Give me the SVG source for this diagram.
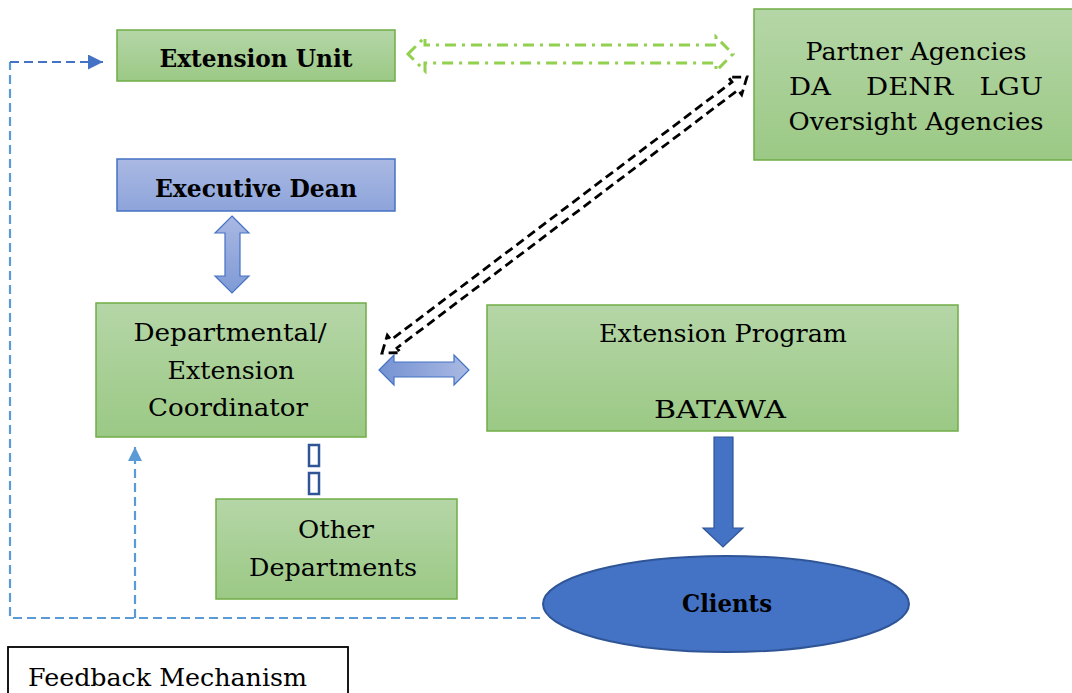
<svg xmlns="http://www.w3.org/2000/svg" width="1072" height="693" viewBox="0 0 1072 693">
<defs>
<linearGradient id="gGreen" x1="0" y1="0" x2="0" y2="1"><stop offset="0" stop-color="#b5d6a7"/><stop offset="1" stop-color="#9bc985"/></linearGradient>
<linearGradient id="gBlue" x1="0" y1="0" x2="0" y2="1"><stop offset="0" stop-color="#aab9e3"/><stop offset="1" stop-color="#8da4da"/></linearGradient>
<linearGradient id="gArrV" x1="0" y1="0" x2="0" y2="1"><stop offset="0" stop-color="#a9b8e2"/><stop offset="1" stop-color="#7f9ad6"/></linearGradient>
<linearGradient id="gArrH" x1="0" y1="0" x2="1" y2="0"><stop offset="0" stop-color="#7592d2"/><stop offset="1" stop-color="#aab9e3"/></linearGradient>
<marker id="arrBlue" viewBox="0 0 10 10" refX="10" refY="5" markerWidth="16" markerHeight="15" markerUnits="userSpaceOnUse" orient="auto"><path d="M0,0 L10,5 L0,10 Z" fill="#4472c4"/></marker>
<marker id="arrLight" viewBox="0 0 10 10" refX="10" refY="5" markerWidth="16" markerHeight="14" markerUnits="userSpaceOnUse" orient="auto"><path d="M0,0 L10,5 L0,10 Z" fill="#5b9bd5"/></marker>
</defs>
<style>
.gbox{fill:url(#gGreen);stroke:#70ad47;stroke-width:1.5}
.bbox{fill:url(#gBlue);stroke:#4472c4;stroke-width:1.5}
.t{font-family:"DejaVu Serif","Liberation Serif",serif;font-size:25px;fill:#000;text-anchor:middle}
.b{font-weight:bold}
.fb{fill:none;stroke:#5b9bd5;stroke-width:2.2;stroke-dasharray:9 5}
</style>
<rect width="1072" height="693" fill="#fff"/>

<g id="connectors">
  <!-- feedback loop -->
  <path class="fb" d="M540,618 H10 V62"/>
  <path class="fb" d="M10,62 H103" style="stroke:#4472c4" marker-end="url(#arrBlue)"/>
  <path class="fb" d="M135,618 V447" marker-end="url(#arrLight)"/>
  <!-- green dash-dot hollow double arrow -->
  <polygon points="408,54 425,37 425,45 716,45 716,37 733,54 716,71 716,63 425,63 425,71" fill="none" stroke="#92d050" stroke-width="3" stroke-dasharray="11 6 3 6"/>
  <!-- black dashed hollow double arrow -->
  <g transform="translate(382,353) rotate(-37.1)">
    <polygon points="0,0 15,-11 15,-5 442.6,-5 442.6,-11 457.6,0 442.6,11 442.6,5 15,5 15,11" fill="none" stroke="#000" stroke-width="2.8" stroke-dasharray="9 5"/>
  </g>
  <!-- vertical block double arrow -->
  <polygon points="232,216 249,233 240,233 240,276 249,276 232,293 215,276 225,276 225,233 215,233" fill="url(#gArrV)" stroke="#4472c4" stroke-width="1.2"/>
  <!-- horizontal block double arrow -->
  <polygon points="379,370 394,355 394,362 454,362 454,355 469,370 454,385 454,377 394,377 394,385" fill="url(#gArrH)" stroke="#4472c4" stroke-width="1.2"/>
  <!-- small link boxes -->
  <rect x="309" y="445" width="10" height="21" fill="#fff" stroke="#2f5597" stroke-width="2.5"/>
  <rect x="309" y="473" width="10" height="21" fill="#fff" stroke="#2f5597" stroke-width="2.5"/>
  <!-- down arrow to clients -->
  <polygon points="714,437 733,437 733,528 743,528 723,547 703,528 714,528" fill="#4472c4" stroke="#2f5597" stroke-width="1.2"/>
</g>

<g id="extension-unit">
  <rect class="gbox" x="117" y="30" width="278" height="51"/>
  <text class="t b" x="256" y="67" font-size="26" textLength="193" lengthAdjust="spacingAndGlyphs">Extension Unit</text>
</g>
<g id="partner-agencies">
  <rect class="gbox" x="754" y="9" width="321" height="151"/>
  <text class="t" x="916" y="60" font-size="27" textLength="221" lengthAdjust="spacingAndGlyphs">Partner Agencies</text>
  <text class="t" x="916" y="95" font-size="27" textLength="254" lengthAdjust="spacingAndGlyphs" xml:space="preserve">DA    DENR   LGU</text>
  <text class="t" x="916" y="130" font-size="27" textLength="255" lengthAdjust="spacingAndGlyphs">Oversight Agencies</text>
</g>
<g id="executive-dean">
  <rect class="bbox" x="117" y="159" width="278" height="52"/>
  <text class="t b" x="256" y="197" font-size="26" textLength="202" lengthAdjust="spacingAndGlyphs">Executive Dean</text>
</g>
<g id="coordinator">
  <rect class="gbox" x="96" y="303" width="270" height="134"/>
  <text class="t" x="230" y="341" textLength="193" lengthAdjust="spacingAndGlyphs">Departmental/</text>
  <text class="t" x="231" y="379" textLength="127" lengthAdjust="spacingAndGlyphs">Extension</text>
  <text class="t" x="228" y="416" textLength="160" lengthAdjust="spacingAndGlyphs">Coordinator</text>
</g>
<g id="extension-program">
  <rect class="gbox" x="487" y="305" width="471" height="126"/>
  <text class="t" x="723" y="342" textLength="248" lengthAdjust="spacingAndGlyphs">Extension Program</text>
  <text class="t" x="720" y="418" textLength="132" lengthAdjust="spacingAndGlyphs">BATAWA</text>
</g>
<g id="other-departments">
  <rect class="gbox" x="216" y="499" width="241" height="100"/>
  <text class="t" x="336" y="538" textLength="76" lengthAdjust="spacingAndGlyphs">Other</text>
  <text class="t" x="333" y="576" textLength="168" lengthAdjust="spacingAndGlyphs">Departments</text>
</g>
<g id="clients">
  <ellipse cx="726" cy="604" rx="183" ry="48" fill="#4472c4" stroke="#2f5597" stroke-width="2"/>
  <text class="t b" x="727" y="612" font-size="27" textLength="90" lengthAdjust="spacingAndGlyphs">Clients</text>
</g>
<g id="feedback-mechanism">
  <rect x="8" y="647" width="340" height="60" fill="#fff" stroke="#000" stroke-width="1.8"/>
  <text class="t" x="28" y="686" style="text-anchor:start" textLength="279" lengthAdjust="spacingAndGlyphs">Feedback Mechanism</text>
</g>
</svg>
